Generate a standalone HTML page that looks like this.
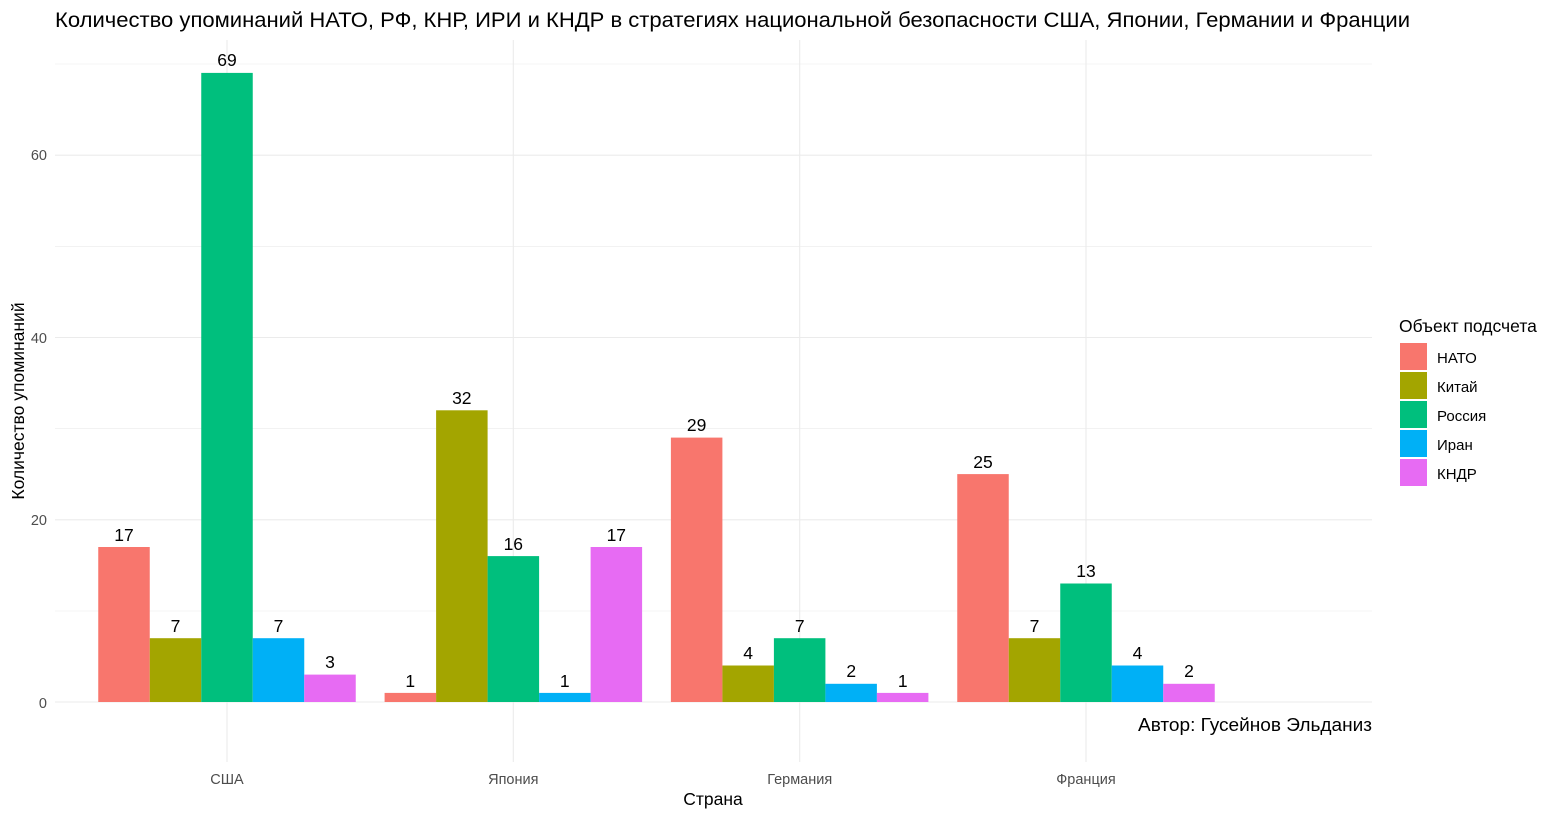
<!DOCTYPE html>
<html><head><meta charset="utf-8"><style>body{margin:0;background:#fff}svg{display:block}</style></head><body>
<svg width="1561" height="818" xmlns="http://www.w3.org/2000/svg" font-family="Liberation Sans, DejaVu Sans, sans-serif">
<rect width="1561" height="818" fill="#fff"/>
<g stroke="#ebebeb" stroke-width="0.6">
<line x1="55" x2="1372" y1="64" y2="64"/><line x1="55" x2="1372" y1="246.3" y2="246.3"/><line x1="55" x2="1372" y1="428.6" y2="428.6"/><line x1="55" x2="1372" y1="611" y2="611"/>
</g>
<g stroke="#ebebeb" stroke-width="1.1">
<line x1="55" x2="1372" y1="155.2" y2="155.2"/><line x1="55" x2="1372" y1="337.5" y2="337.5"/><line x1="55" x2="1372" y1="519.8" y2="519.8"/><line x1="55" x2="1372" y1="702" y2="702"/>
<line x1="227" x2="227" y1="40" y2="762"/><line x1="513.3" x2="513.3" y1="40" y2="762"/><line x1="799.7" x2="799.7" y1="40" y2="762"/><line x1="1086" x2="1086" y1="40" y2="762"/>
</g>
<g>
<rect x="98.25" y="547" width="51.5" height="155" fill="#F8766D"/>
<rect x="149.75" y="638.2" width="51.5" height="63.8" fill="#A3A500"/>
<rect x="201.25" y="72.9" width="51.5" height="629.1" fill="#00BF7D"/>
<rect x="252.75" y="638.2" width="51.5" height="63.8" fill="#00B0F6"/>
<rect x="304.25" y="674.6" width="51.5" height="27.4" fill="#E76BF3"/>
<rect x="384.6" y="692.9" width="51.5" height="9.1" fill="#F8766D"/>
<rect x="436.1" y="410.3" width="51.5" height="291.7" fill="#A3A500"/>
<rect x="487.6" y="556.1" width="51.5" height="145.9" fill="#00BF7D"/>
<rect x="539.1" y="692.9" width="51.5" height="9.1" fill="#00B0F6"/>
<rect x="590.6" y="547" width="51.5" height="155" fill="#E76BF3"/>
<rect x="670.9" y="437.6" width="51.5" height="264.4" fill="#F8766D"/>
<rect x="722.4" y="665.5" width="51.5" height="36.5" fill="#A3A500"/>
<rect x="773.9" y="638.2" width="51.5" height="63.8" fill="#00BF7D"/>
<rect x="825.4" y="683.8" width="51.5" height="18.2" fill="#00B0F6"/>
<rect x="876.9" y="692.9" width="51.5" height="9.1" fill="#E76BF3"/>
<rect x="957.25" y="474.1" width="51.5" height="227.9" fill="#F8766D"/>
<rect x="1008.75" y="638.2" width="51.5" height="63.8" fill="#A3A500"/>
<rect x="1060.25" y="583.5" width="51.5" height="118.5" fill="#00BF7D"/>
<rect x="1111.75" y="665.5" width="51.5" height="36.5" fill="#00B0F6"/>
<rect x="1163.25" y="683.8" width="51.5" height="18.2" fill="#E76BF3"/>
</g>
<g font-size="17.5" text-anchor="middle" fill="#000">
<text x="124" y="541">17</text><text x="175.5" y="632">7</text><text x="227" y="66">69</text><text x="278.5" y="632">7</text><text x="330" y="668">3</text>
<text x="410.3" y="687">1</text><text x="461.8" y="404">32</text><text x="513.3" y="550">16</text><text x="564.8" y="687">1</text><text x="616.3" y="541">17</text>
<text x="696.6" y="431">29</text><text x="748.1" y="659">4</text><text x="799.7" y="632">7</text><text x="851.2" y="677">2</text><text x="902.7" y="687">1</text>
<text x="983" y="468">25</text><text x="1034.5" y="632">7</text><text x="1086" y="577">13</text><text x="1137.5" y="659">4</text><text x="1189" y="677">2</text>
</g>
<g font-size="14.5" fill="#4d4d4d" text-anchor="end">
<text x="47" y="708">0</text><text x="47" y="525">20</text><text x="47" y="343">40</text><text x="47" y="160">60</text>
</g>
<g font-size="14.5" fill="#4d4d4d" text-anchor="middle">
<text x="227" y="784">США</text><text x="513.3" y="784">Япония</text><text x="799.7" y="784">Германия</text><text x="1086" y="784">Франция</text>
</g>
<text x="713" y="805" font-size="17.5" text-anchor="middle">Страна</text>
<text transform="translate(24,401) rotate(-90)" font-size="17.5" text-anchor="middle">Количество упоминаний</text>
<text x="1372" y="731" font-size="18" text-anchor="end" textLength="234" lengthAdjust="spacingAndGlyphs">Автор: Гусейнов Эльданиз</text>
<text x="55" y="27" font-size="21.5" textLength="1355" lengthAdjust="spacingAndGlyphs">Количество упоминаний НАТО, РФ, КНР, ИРИ и КНДР в стратегиях национальной безопасности США, Японии, Германии и Франции</text>
<text x="1399" y="332" font-size="17.5">Объект подсчета</text>
<rect x="1400" y="343" width="27" height="27" fill="#F8766D"/>
<rect x="1400" y="372" width="27" height="27" fill="#A3A500"/>
<rect x="1400" y="401" width="27" height="27" fill="#00BF7D"/>
<rect x="1400" y="430" width="27" height="27" fill="#00B0F6"/>
<rect x="1400" y="459" width="27" height="27" fill="#E76BF3"/>
<g font-size="15">
<text x="1437" y="363">НАТО</text><text x="1437" y="392">Китай</text><text x="1437" y="421">Россия</text><text x="1437" y="450">Иран</text><text x="1437" y="479">КНДР</text>
</g>
</svg>
</body></html>
